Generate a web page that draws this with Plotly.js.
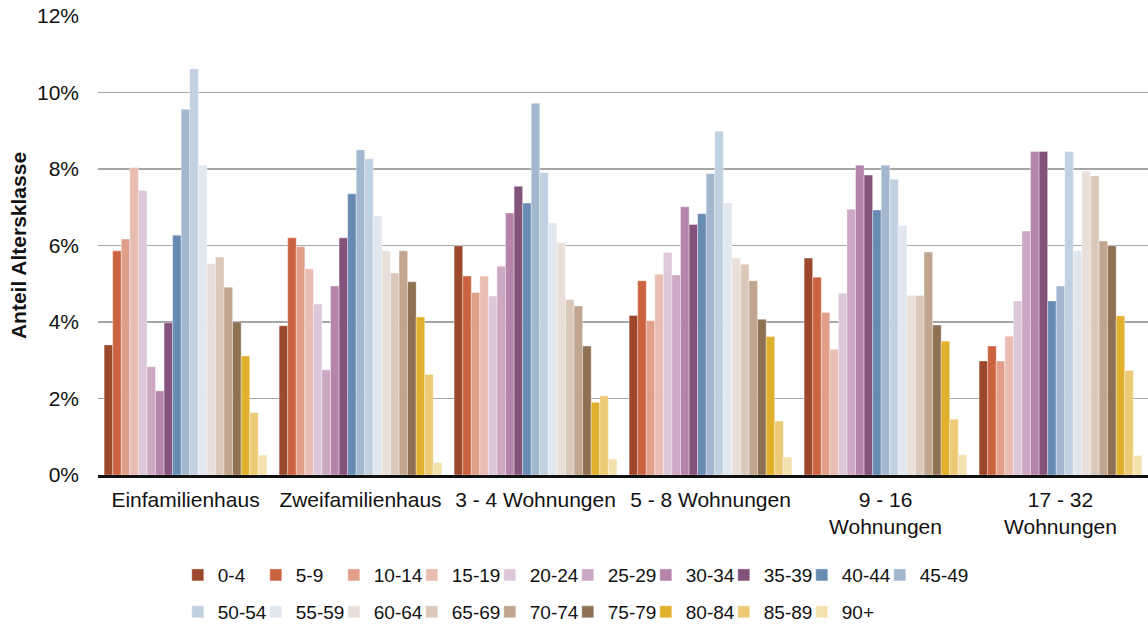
<!DOCTYPE html>
<html>
<head>
<meta charset="utf-8">
<script src="https://cdn.plot.ly/plotly-3.0.1.min.js"></script>
<style>
  html, body { margin: 0; padding: 0; background: #fff; }
  #chart { width: 1148px; height: 627px; }
  /* the fixed entry width is narrower than the labels, keep the last label visible */
  #chart .legend .scrollbox { clip-path: none !important; }
</style>
</head>
<body>
<div id="chart"></div>
<script>
// building types (x categories)
const buildingTypes = [
  "Einfamilienhaus",
  "Zweifamilienhaus",
  "3 - 4 Wohnungen",
  "5 - 8 Wohnungen",
  "9 - 16<br>Wohnungen",
  "17 - 32<br>Wohnungen",
];

// age groups (one trace each)
const ageGroups = ["0-4", "5-9", "10-14", "15-19", "20-24", "25-29", "30-34", "35-39", "40-44",
  "45-49", "50-54", "55-59", "60-64", "65-69", "70-74", "75-79", "80-84", "85-89", "90+"];

const ageColors = ["#9c482c", "#cb6240", "#e19f8a", "#eabdb2", "#ddc7da", "#cca8c5", "#b584aa",
  "#84537b", "#678bb2", "#a3b8cf", "#c2d1e1", "#e0e7ef", "#e9dfd8", "#dac8ba", "#c0a68e",
  "#8e7053", "#e1b02c", "#edcb76", "#f4e2ae"];

// share of each age group in % (order of ageGroups)
const einfamilienhaus = [3.40, 5.86, 6.17, 8.04, 7.44, 2.83, 2.20, 3.98, 6.27, 9.56, 10.62, 8.10, 5.52, 5.70, 4.91, 4.00, 3.11, 1.63, 0.52];
const zweifamilienhaus = [3.90, 6.20, 5.97, 5.39, 4.47, 2.75, 4.94, 6.20, 7.35, 8.50, 8.27, 6.77, 5.86, 5.28, 5.86, 5.05, 4.13, 2.63, 0.33];
const wohnungen3bis4 = [5.99, 5.20, 4.77, 5.20, 4.68, 5.46, 6.85, 7.55, 7.11, 9.72, 7.90, 6.59, 6.07, 4.59, 4.42, 3.37, 1.90, 2.07, 0.42];
const wohnungen5bis8 = [4.17, 5.08, 4.03, 5.25, 5.82, 5.23, 7.01, 6.55, 6.83, 7.88, 8.99, 7.11, 5.67, 5.51, 5.08, 4.07, 3.62, 1.41, 0.47];
const wohnungen9bis16 = [5.67, 5.17, 4.25, 3.29, 4.75, 6.95, 8.10, 7.84, 6.93, 8.10, 7.73, 6.52, 4.69, 4.69, 5.83, 3.92, 3.50, 1.46, 0.53];
const wohnungen17bis32 = [2.98, 3.37, 2.98, 3.63, 4.55, 6.38, 8.46, 8.46, 4.55, 4.94, 8.46, 5.86, 7.94, 7.82, 6.12, 5.99, 4.16, 2.73, 0.51];

const yTicks = [0, 2, 4, 6, 8, 10, 12];

const byType = [einfamilienhaus, zweifamilienhaus, wohnungen3bis4, wohnungen5bis8, wohnungen9bis16, wohnungen17bis32];

const FONT = "Liberation Sans, Arial, sans-serif";
const TEXT = "#111111";

// one bar trace per age group, first 10 in the upper legend row
const traces = ageGroups.map((age, i) => ({
  type: "bar",
  name: age,
  x: buildingTypes,
  y: byType.map(arr => arr[i]),
  marker: {
    color: ageColors[i],
    line: { color: "rgba(255,255,255,0.6)", width: 0.6 },
  },
  legend: i < 10 ? "legend" : "legend2",
  hovertemplate: "%{x}<br>" + age + ": %{y:.2f}%<extra></extra>",
}));

const legendBase = {
  orientation: "h",
  xanchor: "left",
  yanchor: "middle",
  entrywidth: 33,
  entrywidthmode: "pixels",
  font: { family: FONT, size: 19, color: TEXT },
  bgcolor: "rgba(0,0,0,0)",
};

const layout = {
  width: 1148,
  height: 627,
  margin: { l: 98, r: 0, t: 16, b: 152, autoexpand: false },
  paper_bgcolor: "#ffffff",
  plot_bgcolor: "#ffffff",
  font: { family: FONT, size: 21, color: TEXT },
  barmode: "group",
  bargap: 0.07,
  bargroupgap: 0,
  showlegend: true,
  xaxis: {
    type: "category",
    showgrid: false,
    showline: true,
    linecolor: "#111111",
    linewidth: 2.5,
    ticks: "",
    ticklabelstandoff: 4,
    tickfont: { family: FONT, size: 21, color: TEXT },
    fixedrange: true,
  },
  yaxis: {
    range: [0, 12],
    tickmode: "array",
    tickvals: yTicks,
    ticktext: yTicks.map(v => v + "%"),
    showgrid: true,
    gridcolor: "#a6a6a6",
    gridwidth: 1.3,
    zeroline: false,
    showline: false,
    ticks: "",
    ticklabelstandoff: 18,
    tickfont: { family: FONT, size: 21, color: TEXT },
    title: {
      text: "<b>Anteil Altersklasse</b>",
      font: { family: FONT, size: 21, color: TEXT },
      standoff: 4,
    },
    fixedrange: true,
  },
  legend: Object.assign({}, legendBase, { x: 0.076, y: -0.218 }),
  legend2: Object.assign({}, legendBase, { x: 0.076, y: -0.2985 }),
};

Plotly.newPlot("chart", traces, layout, { displayModeBar: false, staticPlot: true });
</script>
</body>
</html>
